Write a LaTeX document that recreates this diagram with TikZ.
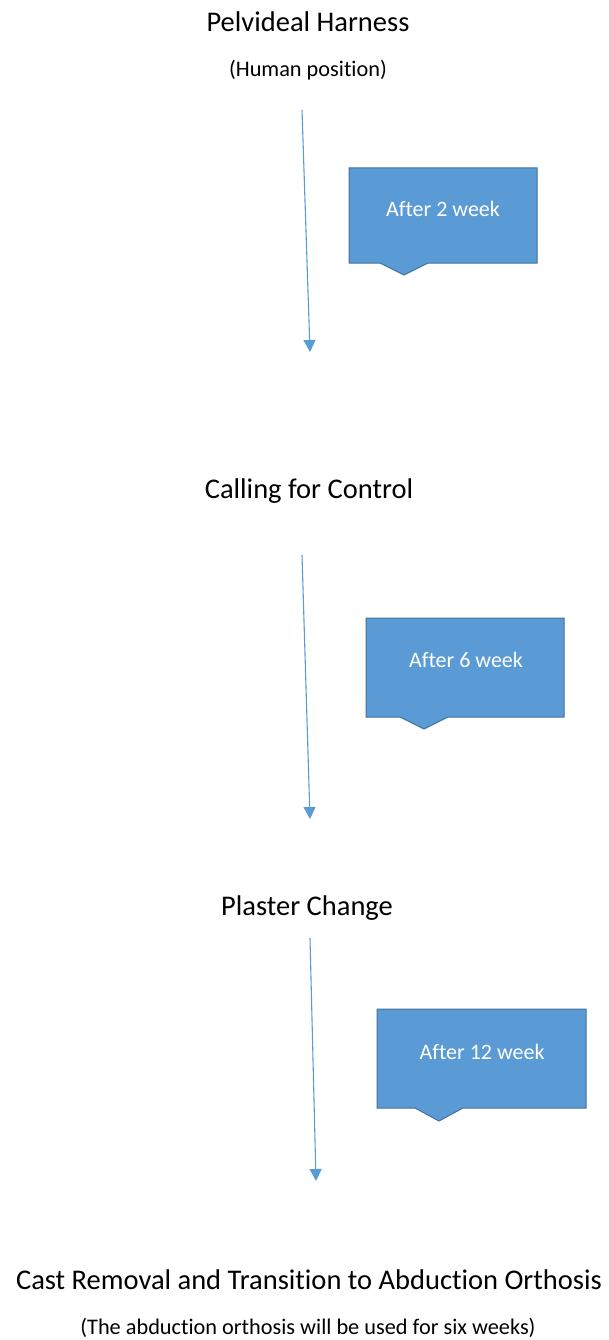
\documentclass[tikz,border=0pt]{standalone}
\usepackage{fontspec}
\setmainfont[Ligatures=NoCommon]{Carlito}
\usetikzlibrary{arrows.meta}
\definecolor{calloutfill}{HTML}{5B9BD5}
\definecolor{calloutedge}{HTML}{41719C}
\definecolor{flowline}{HTML}{5B9BD5}
\begin{document}
\begin{tikzpicture}[x=1pt,y=-1pt,
  title/.style={font=\fontsize{28.5}{33}\selectfont, text=black, inner sep=0pt},
  note/.style={font=\fontsize{22.3}{26}\selectfont, text=black, inner sep=0pt},
  boxtext/.style={font=\fontsize{22}{26}\selectfont, text=white, inner sep=0pt},
  callout/.style={fill=calloutfill, draw=calloutedge, line width=1pt, line join=miter},
  flow/.style={draw=flowline, line width=1.1pt, -{Triangle[width=12pt,length=12pt]}}]
\useasboundingbox (0,0) rectangle (609,1340);

% stage labels
\node[title] (t1) at (308,22) {Pelvideal Harness};
\node[note]  (s1) at (308,70) {(Human position)};
\node[title] (t2) at (309,491) {Calling for Control};
\node[title] (t3) at (307,908) {Plaster Change};
\node[title] (t4) at (309,1280) {Cast Removal and Transition to Abduction Orthosis};
\node[note]  (s4) at (308,1328) {(The abduction orthosis will be used for six weeks)};

% connector end points
\coordinate (a1s) at (302,110);
\coordinate (a1e) at (310,352);
\coordinate (a2s) at (302,555);
\coordinate (a2e) at (310,819);
\coordinate (a3s) at (310,938);
\coordinate (a3e) at (316,1181);

\draw[flow] (a1s) -- (a1e);
\draw[flow] (a2s) -- (a2e);
\draw[flow] (a3s) -- (a3e);

% callout boxes
\draw[callout] (349,168) -- (537,168) -- (537,263) -- (428,263) -- (404,275) -- (380,263) -- (349,263) -- cycle;
\node[boxtext] (c1) at (443,209) {After 2 week};

\draw[callout] (366,618) -- (564,618) -- (564,717) -- (448,717) -- (424,729) -- (400,717) -- (366,717) -- cycle;
\node[boxtext] (c2) at (466,660) {After 6 week};

\draw[callout] (377,1009) -- (586,1009) -- (586,1108) -- (463,1108) -- (439,1121) -- (415,1108) -- (377,1108) -- cycle;
\node[boxtext] (c3) at (482,1052) {After 12 week};
\end{tikzpicture}
\end{document}
